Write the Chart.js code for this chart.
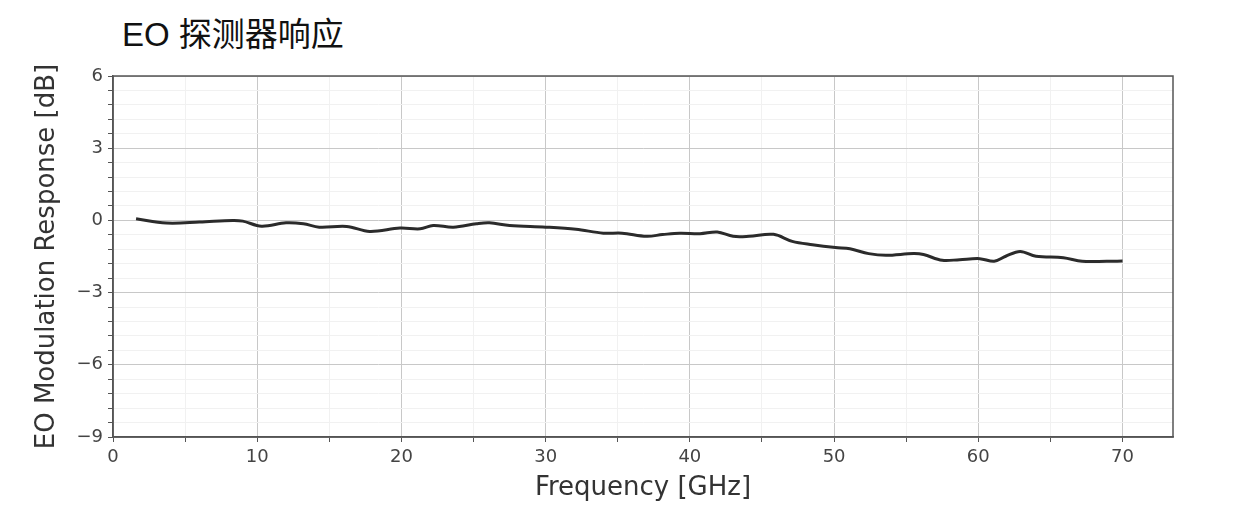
<!DOCTYPE html>
<html>
<head>
<meta charset="utf-8">
<script src="https://cdn.jsdelivr.net/npm/chart.js@4/dist/chart.umd.min.js"></script>
<style>
  body { margin: 0; background: #fff; }
  #wrap { position: relative; width: 1244px; height: 516px; }
  #title { position: absolute; left: 122px; top: 8px; font-family: "Liberation Sans", "Noto Sans CJK SC", sans-serif; font-size: 33px; color: #111; }
  canvas { position: absolute; left: 0; top: 0; }
</style>
</head>
<body>
<div id="wrap">
  <div id="title">EO 探测器响应</div>
  <canvas id="myChart" width="1244" height="516"></canvas>
</div>
<script>
  // frequency in GHz, response in dB
  const freq = [1.6, 3.7, 6.0, 8.3, 9.0, 10.3, 12.0, 13.2, 14.3, 16.2, 17.8, 19.9, 21.3, 22.2, 23.6, 25.2,
    26.1, 27.5, 30.0, 32.1, 34.0, 35.3, 37.0, 38.1, 39.3, 40.7, 41.9, 43.0, 44.1, 45.8, 47.1, 48.5, 50.1,
    51.1, 52.4, 53.6, 55.5, 56.2, 57.5, 58.7, 60.1, 61.1, 61.9, 62.9, 64.0, 65.9, 67.2, 68.9, 70.0];
  const response = [0.07, -0.11, -0.07, 0.0, -0.03, -0.24, -0.1, -0.14, -0.28, -0.25, -0.46, -0.32, -0.35, -0.21, -0.28, -0.14,
    -0.1, -0.21, -0.28, -0.37, -0.53, -0.53, -0.66, -0.59, -0.53, -0.55, -0.48, -0.66, -0.66, -0.58, -0.87, -1.01, -1.13,
    -1.18, -1.38, -1.45, -1.38, -1.42, -1.66, -1.63, -1.59, -1.70, -1.49, -1.29, -1.49, -1.55, -1.70, -1.70, -1.69];
  const xTicks = [0, 10, 20, 30, 40, 50, 60, 70];
  const yTicks = [6, 3, 0, -3, -6, -9];

  const points = freq.map((f, i) => ({ x: f, y: response[i] }));
  const isMajor = (v, list) => list.some(t => Math.abs(v - t) < 1e-6);
  const tickFont = { family: 'DejaVu Sans', size: 18 };

  // box around the plot like matplotlib spines
  const frame = {
    id: 'frame',
    afterDraw(chart) {
      const a = chart.chartArea, c = chart.ctx;
      c.save();
      c.strokeStyle = '#555';
      c.lineWidth = 1.5;
      c.strokeRect(a.left, a.top, a.right - a.left, a.bottom - a.top);
      c.restore();
    }
  };

  const ctx = document.getElementById('myChart').getContext('2d');
  const myChart = new Chart(ctx, {
    type: 'line',
    data: {
      datasets: [{
        data: points,
        borderColor: '#2b2b2b',
        borderWidth: 3,
        pointRadius: 0,
        tension: 0.35,
        fill: false
      }]
    },
    options: {
      responsive: false,
      animation: false,
      layout: { padding: { top: 76, right: 71, left: 0, bottom: 0 } },
      plugins: { legend: { display: false }, tooltip: { enabled: false } },
      scales: {
        x: {
          type: 'linear',
          min: 0,
          max: 73.5,
          afterFit: s => { s.height = 79; },
          ticks: {
            stepSize: 5,
            includeBounds: false,
            autoSkip: false,
            maxRotation: 0,
            color: '#444',
            font: tickFont,
            padding: 5,
            callback: v => isMajor(v, xTicks) ? String(Math.round(v)) : ''
          },
          grid: {
            color: c => isMajor(c.tick.value, xTicks) ? '#c8c8c8' : '#f1f1f1',
            tickColor: '#555',
            tickLength: 5
          },
          border: { color: '#555', width: 1.5 },
          title: {
            display: true,
            text: 'Frequency [GHz]',
            color: '#333',
            font: { family: 'DejaVu Sans', size: 26 },
            padding: { top: 0, bottom: 12 }
          }
        },
        y: {
          min: -9,
          max: 6,
          afterFit: s => { s.width = 113; },
          ticks: {
            stepSize: 0.6,
            includeBounds: false,
            autoSkip: false,
            color: '#444',
            font: tickFont,
            padding: 5,
            callback: v => isMajor(v, yTicks) ? String(Math.round(v)).replace('-', '\u2212') : ''
          },
          grid: {
            color: c => isMajor(c.tick.value, yTicks) ? '#c8c8c8' : '#f1f1f1',
            tickColor: '#555',
            tickLength: 5
          },
          border: { color: '#555', width: 1.5 },
          title: {
            display: true,
            text: 'EO Modulation Response [dB]',
            color: '#333',
            font: { family: 'DejaVu Sans', size: 26 },
            padding: { top: 32, bottom: 0 }
          }
        }
      }
    },
    plugins: [frame]
  });
</script>
</body>
</html>
